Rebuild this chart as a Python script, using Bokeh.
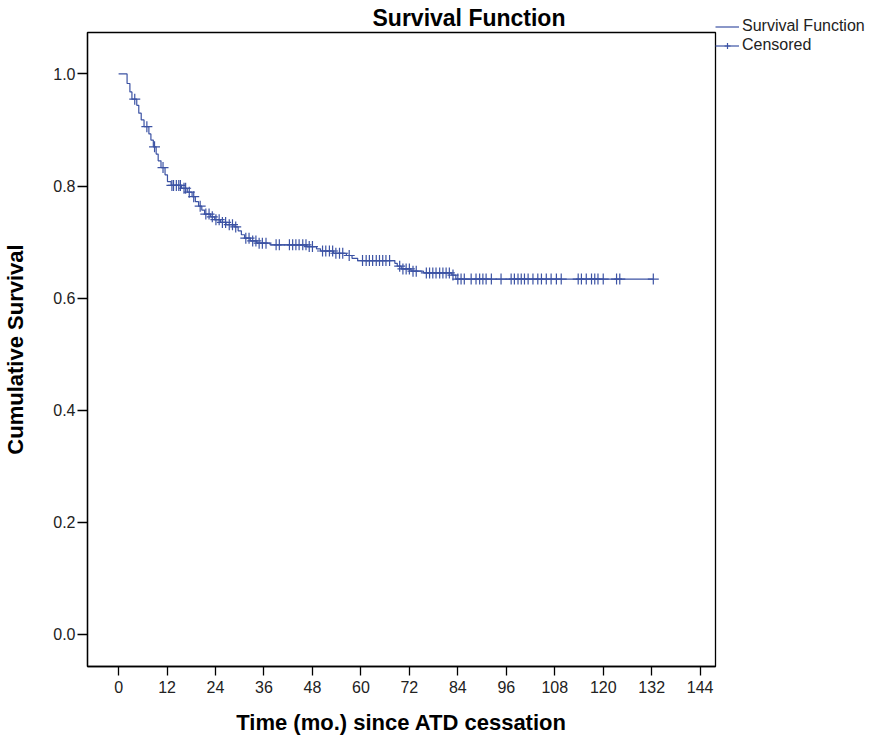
import numpy as np
from bokeh.plotting import figure
from bokeh.models import Range1d, FixedTicker, PrintfTickFormatter, Legend, LegendItem
from bokeh.embed import file_html
from bokeh.resources import INLINE

# ---- data ----
step_times = [0, 2.1, 2.8, 3.3, 4.5, 5.0, 5.6, 6.3, 7.5, 8.0, 8.6, 9.3, 9.8, 10.5, 11.5, 12.1,
              13.0, 15.6, 17.0, 18.2, 19.0, 19.8, 20.6, 21.3, 22.8, 23.8, 25.2, 26.6, 28.6,
              29.6, 30.4, 31.2, 32.6, 34.2, 37.5, 46.6, 49.0, 50.0, 53.2, 56.4, 57.8, 59.2,
              68.4, 69.0, 70.0, 72.4, 75.5, 82.5, 83.5]
step_surv = [1.0, 0.983, 0.968, 0.955, 0.944, 0.930, 0.918, 0.906, 0.893, 0.882, 0.870, 0.857,
             0.845, 0.833, 0.820, 0.808, 0.801, 0.796, 0.789, 0.781, 0.772, 0.764, 0.757, 0.750,
             0.745, 0.740, 0.735, 0.731, 0.727, 0.720, 0.713, 0.707, 0.702, 0.698, 0.695, 0.692,
             0.688, 0.684, 0.680, 0.676, 0.671, 0.667, 0.662, 0.657, 0.652, 0.648, 0.645, 0.641,
             0.634]
censor_times = [4.0, 7.0, 8.9, 11.0, 13.2, 13.6, 14.3, 14.9, 15.3, 16.2, 16.6, 17.5, 18.6, 20.2,
                21.6, 22.4, 23.2, 24.1, 24.9, 25.7, 26.5, 27.4, 28.2, 29.0,
                31.5, 32.3, 33.2, 34.0, 34.8, 35.6, 36.5, 39.0, 39.8,
                42.3, 43.1, 43.9, 44.7, 45.6, 46.4, 47.2, 48.0,
                50.5, 51.3, 52.2, 53.0, 53.8, 54.7, 55.5, 57.1,
                60.4, 61.3, 62.1, 62.9, 63.8, 64.6, 65.4, 66.2, 67.1,
                69.6, 70.4, 71.2, 72.0, 72.9, 73.7,
                76.2, 77.0, 77.8, 78.6, 79.5, 80.3, 81.1, 81.9, 82.8,
                84.0, 84.8, 85.6, 87.3, 88.5, 89.4, 90.2, 91.0, 92.3, 94.7,
                97.2, 98.0, 98.9, 99.7, 100.5, 101.4, 102.6, 103.8, 104.7, 105.9, 107.1, 108.4, 109.6,
                113.8, 114.6, 115.8, 117.1, 117.9, 118.7, 120.0, 123.3, 124.1, 132.4]
x_ticks = [0, 12, 24, 36, 48, 60, 72, 84, 96, 108, 120, 132, 144]
y_ticks = [0.0, 0.2, 0.4, 0.6, 0.8, 1.0]

# ---- derived ----
st = np.array(step_times)
ss = np.array(step_surv)
ct = np.array(censor_times)
idx = np.searchsorted(st, ct, side="right") - 1
cs = ss[idx]
line_x = list(st) + [ct.max()]
line_y = list(ss) + [ss[-1]]

FONT = "Liberation Sans"
COLOR = "#3c53a4"

p = figure(frame_width=628, frame_height=634, output_backend="svg", toolbar_location=None,
           x_range=Range1d(-7.7, 147.8), y_range=Range1d(-0.0575, 1.074),
           min_border_left=74, min_border_right=10, min_border_top=10, min_border_bottom=10)

p.title.text = "Survival Function"
p.title.text_font = FONT
p.title.text_font_size = "23px"
p.title.text_font_style = "bold"
p.title.align = "left"
p.title.offset = 285
p.title.standoff = 4
p.title.text_color = "black"

r_line = p.step(line_x, line_y, mode="after", line_color=COLOR, line_width=1.2)
r_cens = p.scatter(ct, cs, marker="cross", size=11, line_color=COLOR, line_width=1.2)

p.xgrid.visible = False
p.ygrid.visible = False
p.outline_line_color = "black"
p.outline_line_width = 1.3
p.background_fill_color = "white"
p.border_fill_color = "white"

for ax in (p.xaxis[0], p.yaxis[0]):
    ax.axis_line_color = "black"
    ax.axis_line_width = 1.3
    ax.major_tick_line_color = "black"
    ax.major_tick_line_width = 1.3
    ax.major_tick_in = 0
    ax.minor_tick_line_color = None
    ax.major_label_text_font = FONT
    ax.major_label_text_font_size = "16px"
    ax.major_label_text_color = "#222222"
    ax.axis_label_text_font = FONT
    ax.axis_label_text_font_size = "22px"
    ax.axis_label_text_font_style = "bold"
    ax.axis_label_text_color = "black"

p.xaxis.ticker = FixedTicker(ticks=x_ticks)
p.xaxis.major_tick_out = 9
p.xaxis.major_label_standoff = 5
p.xaxis.axis_label = "Time (mo.) since ATD cessation"
p.xaxis.axis_label_standoff = 14

p.yaxis.ticker = FixedTicker(ticks=y_ticks)
p.yaxis.formatter = PrintfTickFormatter(format="%.1f")
p.yaxis.major_tick_out = 10
p.yaxis.major_label_standoff = 2
p.yaxis.axis_label = "Cumulative Survival"
p.yaxis.axis_label_standoff = 22

legend = Legend(items=[LegendItem(label="Survival Function", renderers=[r_line]),
                       LegendItem(label="Censored", renderers=[r_line, r_cens])],
                location=(0, 612), orientation="vertical",
                label_text_font=FONT, label_text_font_size="16px", label_text_color="#222222",
                glyph_width=24, glyph_height=15, label_height=15, label_standoff=3,
                spacing=1, padding=0, margin=0, border_line_color=None,
                background_fill_alpha=0)
p.add_layout(legend, "right")

open("out.html", "w").write(file_html(p, INLINE))
